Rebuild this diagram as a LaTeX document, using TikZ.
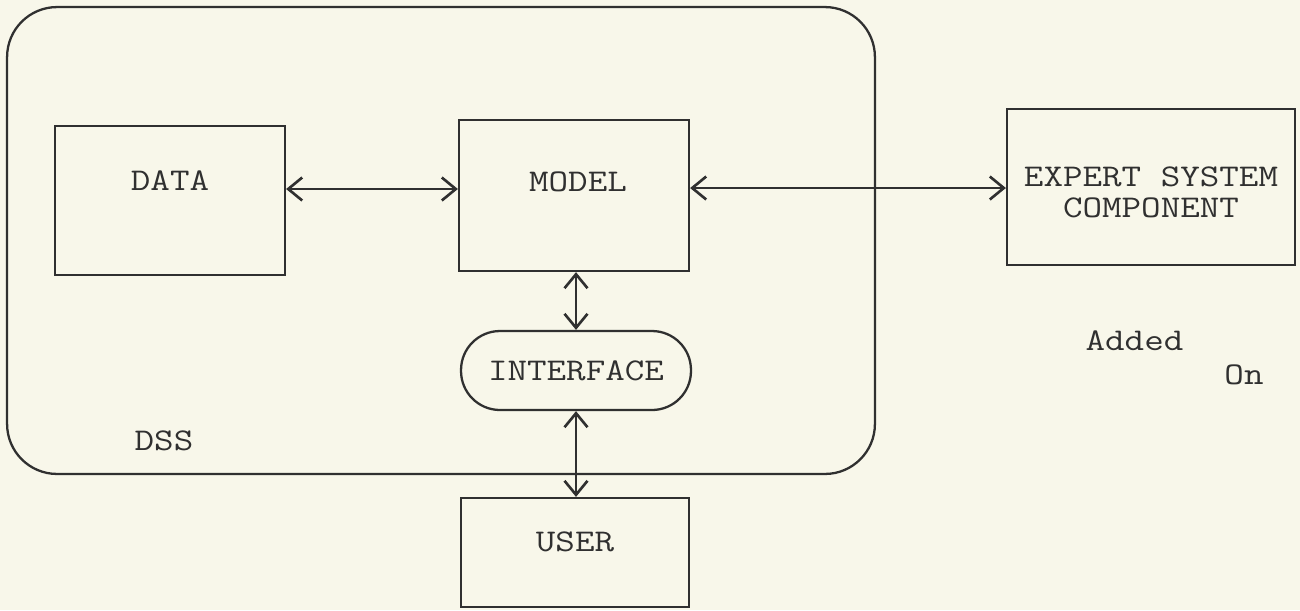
\documentclass[tikz,border=0pt]{standalone}
\usepackage{fontspec}
\newfontfamily\typewriter[FakeStretch=1.2]{Latin Modern Mono}
\usetikzlibrary{arrows.meta}
\definecolor{paper}{HTML}{F8F7EA}
\definecolor{ink}{HTML}{303030}
\begin{document}
\begin{tikzpicture}[x=0.02cm,y=-0.02cm,
  every node/.style={font=\typewriter\fontsize{18}{17.6}\selectfont, text=ink},
  blk/.style={draw=ink, line width=1.3pt, inner sep=0pt},
  biarrow/.style={draw=ink, line width=1.3pt,
    {Straight Barb[length=0.28cm,width=0.46cm,line width=1.5pt]}-{Straight Barb[length=0.28cm,width=0.46cm,line width=1.5pt]}}]
% sheet
\fill[paper] (0,0) rectangle (1300,610);
\useasboundingbox (0,0) rectangle (1300,610);

% DSS enclosure
\node[blk, rounded corners=1cm, minimum width=17.36cm, minimum height=9.34cm] (dss) at (441,240.5) {};
\node (dsslabel) at (164,441) {DSS};

% components
\node[blk, minimum width=4.6cm, minimum height=2.98cm,
      label={[yshift=0.39cm]center:DATA}] (data) at (170,200.5) {};
\node[blk, minimum width=4.6cm, minimum height=3.02cm,
      label={[yshift=0.27cm,xshift=0.08cm]center:MODEL}] (model) at (574,195.5) {};
\node[blk, rounded corners=0.78cm, minimum width=4.6cm, minimum height=1.58cm] (iface) at (576,370.5) {INTERFACE};
\node[blk, minimum width=4.56cm, minimum height=2.18cm,
      label={[yshift=0.21cm]center:USER}] (user) at (575,552.5) {};
\node[blk, minimum width=5.76cm, minimum height=3.12cm,
      label={[yshift=-0.11cm,align=center]center:{EXPERT SYSTEM\\COMPONENT}}] (expert) at (1151,187) {};

% annotation
\node (added) at (1134.5,341) {Added};
\node (on) at (1244,375) {On};

% connections
\draw[biarrow] (data.east |- 0,189) -- (model.west |- 0,189);
\draw[biarrow] (model.east |- 0,188) -- (expert.west |- 0,188);
\draw[biarrow] (iface.north |- model.south) -- (iface.north);
\draw[biarrow] (iface.south) -- (user.north -| iface.south);
\end{tikzpicture}
\end{document}
